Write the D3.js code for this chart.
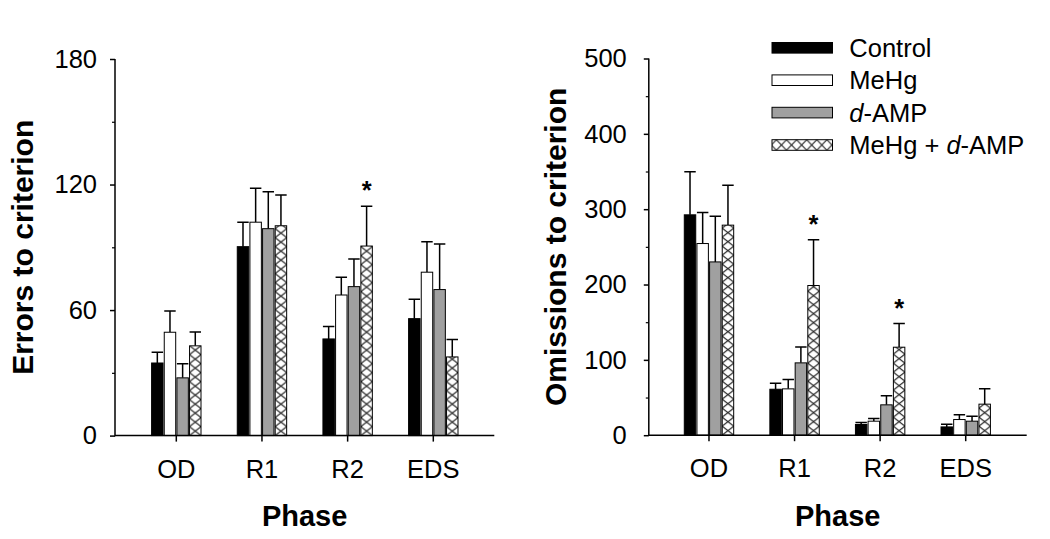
<!DOCTYPE html>
<html>
<head>
<meta charset="utf-8">
<script src="https://cdn.jsdelivr.net/npm/d3@7"></script>
<style>
  html, body { margin: 0; padding: 0; background: #fff; }
  svg { display: block; font-family: "Liberation Sans", Arial, sans-serif; }
</style>
</head>
<body>
<svg id="chart" width="1050" height="539"></svg>
<script>
// ---------- data ----------
const categories = ["OD", "R1", "R2", "EDS"];
const seriesNames = ["Control", "MeHg", "d-AMP", "MeHg + d-AMP"];

// Panel A: errors to criterion (mean, SEM)
const errorsControl   = [34.7, 90.3, 46.2, 55.9];
const errorsMeHg      = [49.4, 102.0, 67.2, 78.1];
const errorsDAMP      = [27.6, 98.9, 71.2, 69.8];
const errorsCombo     = [42.9, 100.3, 90.6, 37.6];
const errorsControlSE = [5.1, 11.7, 5.9, 9.3];
const errorsMeHgSE    = [10.2, 16.2, 8.5, 14.6];
const errorsDAMPSE    = [6.7, 17.7, 13.2, 21.8];
const errorsComboSE   = [6.6, 14.7, 19.0, 8.3];
const errorsComboSig  = ["", "", "*", ""];

// Panel B: omissions to criterion (mean, SEM)
const omissionsControl   = [292.5, 61.0, 14.2, 11.0];
const omissionsMeHg      = [254.4, 61.5, 18.6, 20.8];
const omissionsDAMP      = [230.0, 96.0, 40.3, 18.6];
const omissionsCombo     = [278.8, 198.7, 116.8, 41.2];
const omissionsControlSE = [57.1, 8.0, 2.6, 3.6];
const omissionsMeHgSE    = [41.2, 12.4, 3.5, 6.2];
const omissionsDAMPSE    = [60.7, 21.2, 11.9, 6.6];
const omissionsComboSE   = [53.1, 60.6, 31.4, 20.3];
const omissionsComboSig  = ["", "*", "*", ""];

const errorsTicks = [0, 60, 120, 180];
const errorsMinorTicks = [30, 90, 150];
const omissionsTicks = [0, 100, 200, 300, 400, 500];
const omissionsMinorTicks = [50, 150, 250, 350, 450];

// ---------- styles ----------
const fills = ["#000000", "#ffffff", "#a0a0a0", "hatch"];
const FONT = 25.5;

const svg = d3.select("#chart");
const defs = svg.append("defs");
let patId = 0;
function hatchPattern(x, y, w, h) {
  const id = "hatch" + (patId++);
  const p = defs.append("pattern")
    .attr("id", id)
    .attr("patternUnits", "userSpaceOnUse")
    .attr("x", x).attr("y", y)
    .attr("width", w).attr("height", h);
  p.append("rect").attr("width", w).attr("height", h).attr("fill", "#fff");
  p.append("path")
    .attr("d", `M0,0L${w},${h}M${w},0L0,${h}`)
    .attr("stroke", "#111").attr("stroke-width", 1).attr("fill", "none");
  return "url(#" + id + ")";
}

function drawPanel(cfg) {
  const g = svg.append("g");
  const y = d3.scaleLinear().domain(cfg.yDomain).range([cfg.yBottom, cfg.yTop]);
  const x0 = d3.scaleBand().domain(categories).range(cfg.bandRange);
  const groupW = 50.6;
  const x1 = d3.scaleBand().domain(seriesNames).range([0, groupW]);
  const barW = x1.bandwidth() - 1.2;

  // bars
  seriesNames.forEach((s, si) => {
    const means = cfg.means[si], ses = cfg.ses[si];
    const data = categories.map((c, ci) => ({ c, v: means[ci], se: ses[ci], sig: si === 3 ? cfg.sig[ci] : "" }));
    const bx = d => x0(d.c) + (x0.bandwidth() - groupW) / 2 + x1(s) + 0.6;
    // error bars
    g.selectAll(null).data(data).enter().append("path")
      .attr("d", d => {
        const cx = bx(d) + barW / 2;
        const yt = y(d.v + d.se);
        return `M${cx},${y(d.v)}V${yt}M${cx - barW / 2},${yt}H${cx + barW / 2}`;
      })
      .attr("stroke", "#000").attr("stroke-width", 1.5).attr("fill", "none");
    g.selectAll(null).data(data).enter().append("rect")
      .attr("x", bx)
      .attr("y", d => y(d.v))
      .attr("width", barW)
      .attr("height", d => y(0) - y(d.v))
      .attr("fill", d => fills[si] === "hatch" ? hatchPattern(bx(d), y(0), barW, 9) : fills[si])
      .attr("stroke", "#000").attr("stroke-width", 1);
    g.selectAll(null).data(data.filter(d => d.sig)).enter().append("text")
      .attr("x", d => bx(d) + barW / 2)
      .attr("y", d => y(d.v + d.se) - 7)
      .attr("text-anchor", "middle")
      .attr("font-size", FONT).attr("font-weight", "bold")
      .text(d => d.sig);
  });

  // y axis
  const yAxis = d3.axisLeft(y).tickValues(cfg.ticks).tickSize(5).tickPadding(cfg.tickPad).tickFormat(d3.format("d"));
  const ya = g.append("g").attr("transform", `translate(${cfg.axisLeft},0)`).call(yAxis);
  ya.select(".domain").remove();
  ya.selectAll("line").attr("stroke-width", 1.5);
  ya.selectAll("text").attr("font-size", FONT).attr("fill", "#000").attr("font-family", "Liberation Sans, Arial, sans-serif");
  const ym = g.append("g").attr("transform", `translate(${cfg.axisLeft},0)`)
    .call(d3.axisLeft(y).tickValues(cfg.minorTicks).tickSize(3).tickFormat(""));
  ym.select(".domain").remove();
  ym.selectAll("line").attr("stroke-width", 1.2);
  g.append("line").attr("x1", cfg.axisLeft).attr("x2", cfg.axisLeft)
    .attr("y1", y(cfg.yDomain[0]) + 0.75).attr("y2", y(cfg.yDomain[1]))
    .attr("stroke", "#000").attr("stroke-width", 1.5);

  // x axis
  const xAxis = d3.axisBottom(x0).tickSize(6).tickPadding(18);
  const xa = g.append("g").attr("transform", `translate(0,${y(0)})`).call(xAxis);
  xa.select(".domain").remove();
  xa.selectAll("line").attr("stroke-width", 1.5);
  xa.selectAll("text").attr("font-size", FONT).attr("fill", "#000").attr("font-family", "Liberation Sans, Arial, sans-serif");
  g.append("line").attr("x1", cfg.axisLeft).attr("x2", cfg.axisRight)
    .attr("y1", y(0)).attr("y2", y(0))
    .attr("stroke", "#000").attr("stroke-width", 1.5);

  // titles
  g.append("text")
    .attr("x", (cfg.axisLeft + cfg.axisRight) / 2).attr("y", 526)
    .attr("text-anchor", "middle").attr("font-size", 29).attr("font-weight", "bold")
    .text("Phase");
  g.append("text")
    .attr("transform", `translate(${cfg.titleX},${(cfg.yTop + cfg.yBottom) / 2}) rotate(-90)`)
    .attr("text-anchor", "middle").attr("font-size", 30).attr("font-weight", "bold")
    .text(cfg.title);
}

drawPanel({
  yDomain: [0, 180], yBottom: 435.6, yTop: 59,
  bandRange: [133.47, 476.13], axisLeft: 115, axisRight: 494.3,
  ticks: errorsTicks, minorTicks: errorsMinorTicks, tickPad: 13,
  means: [errorsControl, errorsMeHg, errorsDAMP, errorsCombo],
  ses: [errorsControlSE, errorsMeHgSE, errorsDAMPSE, errorsComboSE],
  sig: errorsComboSig,
  title: "Errors to criterion", titleX: 33
});

drawPanel({
  yDomain: [0, 500], yBottom: 435.2, yTop: 58.5,
  bandRange: [666.2, 1008.5], axisLeft: 648.8, axisRight: 1026.7,
  ticks: omissionsTicks, minorTicks: omissionsMinorTicks, tickPad: 17,
  means: [omissionsControl, omissionsMeHg, omissionsDAMP, omissionsCombo],
  ses: [omissionsControlSE, omissionsMeHgSE, omissionsDAMPSE, omissionsComboSE],
  sig: omissionsComboSig,
  title: "Omissions to criterion", titleX: 566
});

// ---------- legend ----------
const legend = svg.append("g").attr("transform", "translate(772,0)");
const rowY = d3.scalePoint().domain(seriesNames).range([47.8, 145]);
seriesNames.forEach((s, i) => {
  const cy = rowY(s);
  legend.append("rect")
    .attr("x", 0).attr("y", cy - 5.3).attr("width", 60.5).attr("height", 10.6)
    .attr("fill", fills[i] === "hatch" ? hatchPattern(772, cy - 5.3, 10.1, 10.6) : fills[i])
    .attr("stroke", "#000").attr("stroke-width", 1);
  const t = legend.append("text")
    .attr("x", 77.3).attr("y", cy + 9.2)
    .attr("font-size", FONT).attr("fill", "#000");
  if (s.includes("d-AMP")) {
    const pre = s.replace("d-AMP", "");
    if (pre) t.append("tspan").text(pre);
    t.append("tspan").attr("font-style", "italic").text("d");
    t.append("tspan").text("-AMP");
  } else {
    t.text(s);
  }
});
</script>
</body>
</html>
